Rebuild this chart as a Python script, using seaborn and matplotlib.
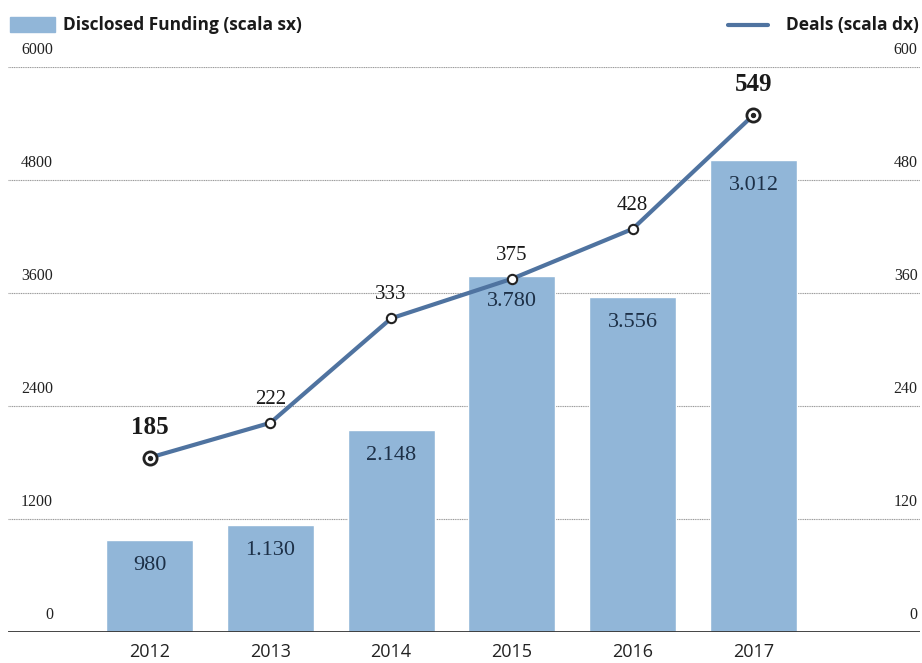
import numpy as np
import pandas as pd
import matplotlib.pyplot as plt
import seaborn as sns

# data
years = ['2012', '2013', '2014', '2015', '2016', '2017']
funding = [980, 1130, 2148, 3780, 3556, 5012]
funding_labels = ['980', '1.130', '2.148', '3.780', '3.556', '3.012']
deals = [185, 222, 333, 375, 428, 549]
left_ticks = [0, 1200, 2400, 3600, 4800, 6000]
right_ticks = [0, 120, 240, 360, 480, 600]

BAR = '#91b6d8'
LINE = '#4f73a0'
NAVY = '#1d3047'
SERIF = ['Liberation Serif', 'DejaVu Serif']
SANS = ['Open Sans', 'DejaVu Sans']

sns.set_theme(style='white')
plt.rcParams['font.family'] = SANS

df = pd.DataFrame({'year': years, 'funding': funding, 'deals': deals})

fig = plt.figure(figsize=(9.22, 6.63), dpi=100)
ax = fig.add_axes([0.009, 0.047, 0.989, 0.852])

sns.barplot(data=df, x='year', y='funding', color=BAR, saturation=1,
            width=0.72, ax=ax, zorder=2)
ax.set_ylim(0, 6000)
ax.set_xlim(-1.17, 6.38)
ax.set_xlabel('')
ax.set_ylabel('')
for s in ax.spines.values():
    s.set_visible(False)

# gridlines + left tick labels inside the plot
for t in left_ticks[1:]:
    ax.axhline(t, color='#9a9a9a', lw=0.8, ls=(0, (1, 0.6)), zorder=1)
ax.axhline(0, color='#333333', lw=2, zorder=4)
ax.set_yticks([])
for t in left_ticks:
    ax.text(-0.80, t + 90, str(t), ha='right', va='bottom',
            fontsize=11.5, family=SERIF, color='#222222')

ax.tick_params(axis='x', length=0, pad=8, labelsize=13, labelcolor='#222222')

# bar value labels
for i, (v, lab) in enumerate(zip(funding, funding_labels)):
    ax.text(i, v - 170, lab, ha='center', va='top', fontsize=16,
            family=SERIF, color=NAVY, zorder=5)

# deals line on right scale
ax2 = ax.twinx()
x = np.arange(len(years))
sns.lineplot(x=x, y=deals, color=LINE, lw=3, ax=ax2, zorder=6)
ax2.set_ylim(0, 600)
ax2.set_yticks([])
ax2.set_ylabel('')
for s in ax2.spines.values():
    s.set_visible(False)
ax2.scatter(x[1:-1], deals[1:-1], s=45, facecolor='white', edgecolor='#222222',
            lw=1.5, zorder=7)
ax2.scatter([x[0], x[-1]], [deals[0], deals[-1]], s=90, facecolor='white',
            edgecolor='#222222', lw=2, zorder=7)
ax2.scatter([x[0], x[-1]], [deals[0], deals[-1]], s=8, color='#222222', zorder=8)
for i, d in enumerate(deals):
    big = i in (0, len(deals) - 1)
    ax2.text(i, d + (20 if big else 15), str(d), ha='center', va='bottom',
             fontsize=18 if big else 15, fontweight='bold' if big else 'normal',
             family=SERIF, color='#1a1a1a', zorder=9)
for t in right_ticks:
    ax2.text(6.36, t + 9, str(t), ha='right', va='bottom', fontsize=11.5,
             family=SERIF, color='#222222')

# legend at top
fig.patches.append(plt.Rectangle((0.011, 0.952), 0.049, 0.022, transform=fig.transFigure,
                                 color=BAR, figure=fig))
fig.text(0.068, 0.963, 'Disclosed Funding (scala sx)', ha='left', va='center',
         fontsize=12.5, fontweight='bold', color='#1a1a1a')
fig.lines.append(plt.Line2D([0.79, 0.833], [0.963, 0.963], transform=fig.transFigure,
                            color=LINE, lw=3, figure=fig))
fig.text(0.997, 0.963, 'Deals (scala dx)', ha='right', va='center',
         fontsize=12.5, fontweight='bold', color='#1a1a1a')

fig.savefig('out.png', dpi=100)
